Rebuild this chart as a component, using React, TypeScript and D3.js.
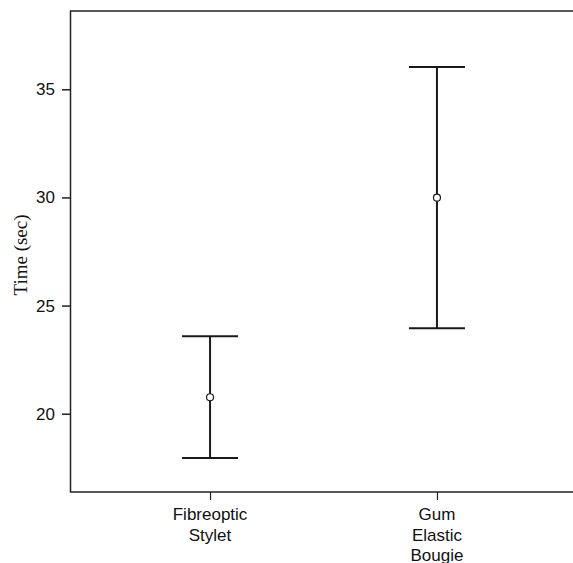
import { useEffect, useRef } from "react";
import * as d3 from "d3";

const groups = ["Fibreoptic Stylet", "Gum Elastic Bougie"];
const groupLines = [["Fibreoptic", "Stylet"], ["Gum", "Elastic", "Bougie"]];
const means = [20.76, 29.99];
const upper = [23.58, 36.03];
const lower = [17.95, 23.95];
const yTicks = [20, 25, 30, 35];

const W = 573;
const H = 563;
const margin = { left: 70.5, top: 11, right: -3.5, bot: 71 };

export default function App() {
  const ref = useRef<SVGSVGElement>(null);

  useEffect(() => {
    document.body.style.margin = "0";
    const svg = d3.select(ref.current);
    svg.selectAll("*").remove();

    const x = d3
      .scalePoint()
      .domain(groups)
      .range([margin.left, W - margin.right])
      .padding(0.615);

    const y = d3
      .scaleLinear()
      .domain([16.38, 38.62])
      .range([H - margin.bot, margin.top]);

    const sans = "'Liberation Sans', Arial, Helvetica, sans-serif";

    // frame (right side runs off the page)
    svg
      .append("rect")
      .attr("x", margin.left)
      .attr("y", margin.top)
      .attr("width", W - margin.right - margin.left)
      .attr("height", H - margin.bot - margin.top)
      .attr("fill", "none")
      .attr("stroke", "#222")
      .attr("stroke-width", 1.5);

    // y axis
    const ya = svg
      .append("g")
      .attr("transform", "translate(" + margin.left + ",0)")
      .call(d3.axisLeft(y).tickValues(yTicks).tickSize(8.5).tickPadding(7));
    ya.select(".domain").remove();
    ya.selectAll("line").attr("stroke", "#222").attr("stroke-width", 1.5);
    ya.selectAll("text")
      .attr("font-family", sans)
      .attr("font-size", 17)
      .attr("fill", "#111");

    // x axis
    const xa = svg
      .append("g")
      .attr("transform", "translate(0," + (H - margin.bot) + ")")
      .call(d3.axisBottom(x).tickSize(8).tickFormat(() => ""));
    xa.select(".domain").remove();
    xa.selectAll("line").attr("stroke", "#222").attr("stroke-width", 1.2);

    const labels = svg
      .append("g")
      .selectAll("text")
      .data(groups)
      .join("text")
      .attr("x", (d) => x(d)!)
      .attr("y", 520)
      .attr("text-anchor", "middle")
      .attr("font-family", sans)
      .attr("font-size", 17)
      .attr("fill", "#111");
    labels
      .selectAll("tspan")
      .data((d, i) => groupLines[groups.indexOf(d)])
      .join("tspan")
      .attr("x", function () {
        return (this.parentNode as SVGTextElement).getAttribute("x");
      })
      .attr("dy", (d, i) => (i === 0 ? 0 : 20.5))
      .text((d) => d);

    // y label
    svg
      .append("text")
      .attr("transform", "translate(27,255) rotate(-90)")
      .attr("text-anchor", "middle")
      .attr("font-family", "'Liberation Serif', 'Times New Roman', serif")
      .attr("font-size", 19)
      .attr("fill", "#111")
      .text("Time (sec)");

    // error bars
    const bars = svg.append("g");
    const capW = 28;
    groups.forEach((g, i) => {
      const cx = x(g)!;
      bars
        .append("line")
        .attr("x1", cx)
        .attr("x2", cx)
        .attr("y1", y(upper[i]))
        .attr("y2", y(lower[i]))
        .attr("stroke", "#1a1a1a")
        .attr("stroke-width", 2);
      [upper[i], lower[i]].forEach((v) => {
        bars
          .append("line")
          .attr("x1", cx - capW)
          .attr("x2", cx + capW)
          .attr("y1", y(v))
          .attr("y2", y(v))
          .attr("stroke", "#1a1a1a")
          .attr("stroke-width", 2);
      });
      bars
        .append("circle")
        .attr("cx", cx)
        .attr("cy", y(means[i]))
        .attr("r", 3.5)
        .attr("fill", "white")
        .attr("stroke", "#1a1a1a")
        .attr("stroke-width", 1.2);
    });
  }, []);

  return <svg ref={ref} width={W} height={H} style={{ display: "block" }} />;
}
